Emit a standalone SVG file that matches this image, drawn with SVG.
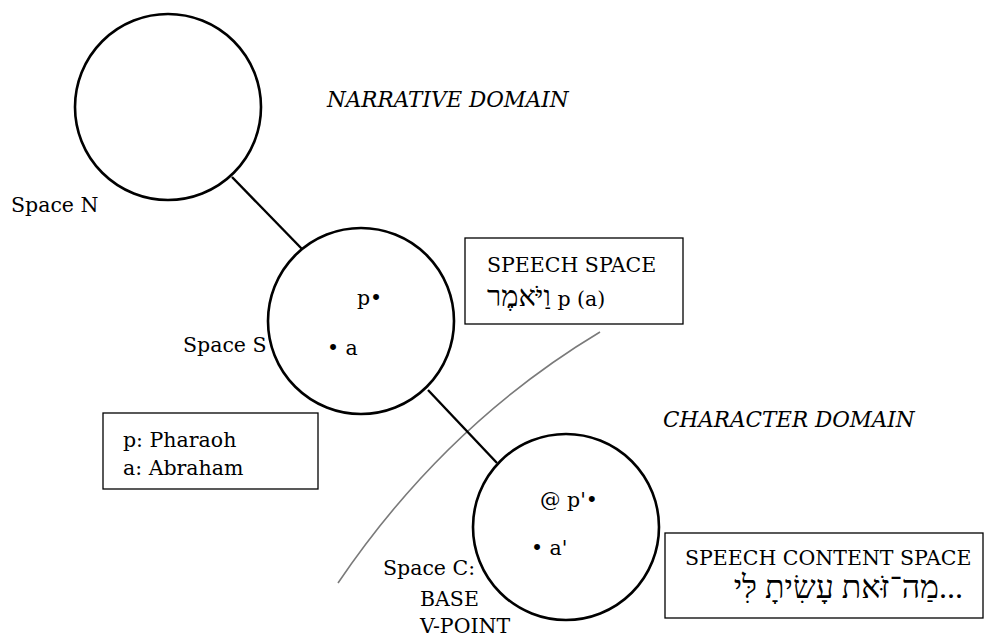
<svg xmlns="http://www.w3.org/2000/svg" width="985" height="638" viewBox="0 0 985 638">
  <style>
    .space { fill: #fff; stroke: #000; stroke-width: 2.6; }
    .link { stroke: #000; stroke-width: 2.4; fill: none; }
    .divide { stroke: #7a7a7a; stroke-width: 1.6; fill: none; }
    .box { fill: #fff; stroke: #000; stroke-width: 1.3; }
    text { font-family: "DejaVu Serif", "Liberation Serif", serif; font-size: 20.5px; fill: #000; }
    .dom { font-style: italic; font-size: 21.5px; }
    .heb { font-family: "Liberation Serif", "DejaVu Sans", serif; }
    .heb-verb { font-size: 29px; }
    .heb-quote { font-size: 32px; }
  </style>

  <!-- boundary between narrative and character domains -->
  <path class="divide" d="M338,583 Q445,425 600,332"/>

  <!-- connectors between spaces -->
  <g id="connectors">
    <line class="link" x1="232" y1="177" x2="302" y2="249"/>
    <line class="link" x1="428" y1="390" x2="497" y2="463"/>
  </g>

  <!-- domain headings -->
  <text class="dom" x="327" y="107">NARRATIVE DOMAIN</text>
  <text class="dom" x="663" y="427">CHARACTER DOMAIN</text>

  <!-- Space N -->
  <g id="space-n">
    <circle class="space" cx="168" cy="107" r="93"/>
    <text x="11" y="212">Space N</text>
  </g>

  <!-- Space S -->
  <g id="space-s">
    <circle class="space" cx="361" cy="321" r="93"/>
    <text x="183" y="352">Space S</text>
    <text x="357" y="305">p•</text>
    <text x="327" y="355">• a</text>
  </g>

  <!-- Space C -->
  <g id="space-c">
    <circle class="space" cx="566" cy="527" r="93"/>
    <text x="540" y="507">@ p'•</text>
    <text x="531" y="555">• a'</text>
    <text x="383" y="575">Space C:</text>
    <text x="420" y="606">BASE</text>
    <text x="420" y="633">V-POINT</text>
  </g>

  <!-- legend -->
  <g id="legend">
    <rect class="box" x="103" y="413" width="215" height="76"/>
    <text x="123" y="447">p: Pharaoh</text>
    <text x="123" y="475">a: Abraham</text>
  </g>

  <!-- speech space -->
  <g id="speech-space">
    <rect class="box" x="465" y="238" width="218" height="86"/>
    <text x="487" y="272">SPEECH SPACE</text>
    <text x="487" y="306"><tspan class="heb heb-verb">וַיֹּאמֶר</tspan> p (a)</text>
  </g>

  <!-- speech content space -->
  <g id="speech-content-space">
    <rect class="box" x="665" y="533" width="318" height="85" stroke-width="1.8"/>
    <text x="685" y="565">SPEECH CONTENT SPACE</text>
    <text class="heb heb-quote" x="963" y="598" text-anchor="end">מַה־זֹּאת עָשִׂיתָ לִּי...</text>
  </g>
</svg>
